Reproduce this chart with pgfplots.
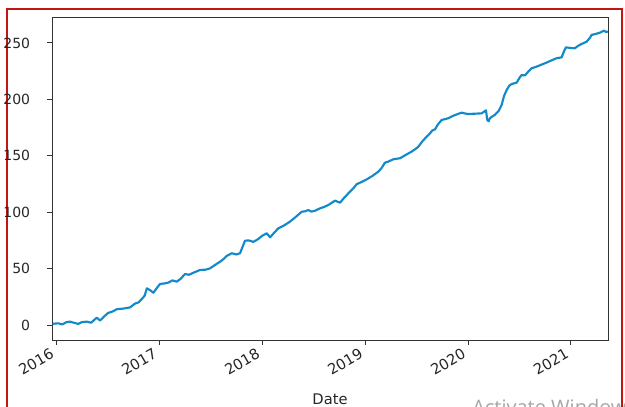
\documentclass[border=0pt]{standalone}
\usepackage{fontspec}
\setmainfont{DejaVu Sans}
\newfontfamily\wmfont{Open Sans}
\usepackage{pgfplots}
\pgfplotsset{compat=1.18}
\definecolor{lineblue}{RGB}{18,137,200}
\definecolor{framered}{RGB}{196,20,20}
\begin{document}
\begin{tikzpicture}[x=0.75pt,y=0.75pt]
\useasboundingbox (0,0) rectangle (625,407);
\draw[framered, line width=0.8pt] (7,-5) -- (7,398) -- (622,398) -- (622,-5);
\begin{axis}[
  at={(39pt,50.25pt)}, anchor=south west,
  scale only axis, width=417pt, height=242.25pt,
  xmin=2015.96, xmax=2021.36, ymin=-13.3, ymax=273,
  xtick={2016,2017,2018,2019,2020,2021},
  xticklabels={2016,2017,2018,2019,2020,2021},
  ytick={0,50,100,150,200,250},
  xtick pos=bottom, ytick pos=left,
  tick align=outside, major tick length=3.75pt,
  axis line style={black!80, line width=0.7pt},
  tick style={black!80, line width=0.7pt},
  /pgf/number format/assume math mode=true,
  tick label style={text=black!85},
  yticklabel style={font=\fontsize{10.5}{12}\selectfont, inner sep=2pt, xshift=-10.5pt},
  xticklabel style={font=\fontsize{11}{13}\selectfont, xshift=-4.5pt, yshift=-0.3pt, rotate=30, anchor=north east, inner sep=1pt},
  xlabel={Date},
  xlabel style={font=\fontsize{11}{13}\selectfont, text=black!85, at={(axis description cs:0.5,-0.152)}, anchor=north},
]
\addplot[lineblue, line width=1.6pt, line join=round] coordinates {
(2015.965,1) (2016.02,1.5) (2016.06,0.5) (2016.10,2.5) (2016.136,3) (2016.17,2) (2016.214,1) (2016.25,2.5)
(2016.298,3) (2016.34,2) (2016.395,6.5) (2016.427,4) (2016.46,7) (2016.505,10.7) (2016.55,12) (2016.589,14)
(2016.65,14.5) (2016.718,15.6) (2016.767,19) (2016.80,20) (2016.832,23) (2016.86,26)
(2016.881,32.5) (2016.91,31) (2016.945,28.6) (2016.98,33) (2017.010,36.4) (2017.05,36.8) (2017.087,37.5)
(2017.13,39.5) (2017.172,38.4) (2017.21,41) (2017.252,45.2) (2017.29,44.5) (2017.333,46.3) (2017.365,47.5)
(2017.398,48.8) (2017.45,49) (2017.495,50.2) (2017.54,53) (2017.592,56.1) (2017.62,58) (2017.657,61.2)
(2017.706,63.6) (2017.75,62.5) (2017.786,63.6) (2017.81,69) (2017.835,74.7) (2017.87,75) (2017.916,73.7)
(2017.96,76) (2018.00,79) (2018.046,81.3) (2018.078,77.7) (2018.12,82) (2018.158,85.7) (2018.21,88)
(2018.272,91.7) (2018.33,96) (2018.385,100.4) (2018.42,100.8) (2018.450,101.9) (2018.48,100.5) (2018.515,101.3)
(2018.563,103.4) (2018.60,104.5) (2018.644,106.4) (2018.68,108.5) (2018.709,110.2) (2018.757,108.4)
(2018.80,113) (2018.854,118.2) (2018.89,121.5) (2018.919,124.8) (2018.96,126.5) (2019.017,129.1)
(2019.07,132) (2019.129,135.9) (2019.16,139) (2019.194,143.9) (2019.23,145) (2019.275,146.9) (2019.340,147.8)
(2019.40,151) (2019.453,153.7) (2019.49,156) (2019.518,158) (2019.55,162) (2019.583,165.4) (2019.631,169.9)
(2019.655,172.5) (2019.680,173.4) (2019.71,178) (2019.745,181.8) (2019.78,182.5) (2019.809,183.3)
(2019.87,186) (2019.939,188.2) (2019.97,187.5) (2020.003,187) (2020.07,187.3) (2020.133,187.6)
(2020.175,190.3) (2020.187,181.8) (2020.20,180.5) (2020.214,183.4) (2020.262,186.3) (2020.30,190)
(2020.327,195) (2020.35,203) (2020.376,208.3) (2020.40,212) (2020.424,213.6) (2020.473,214.8)
(2020.50,219) (2020.521,221.6) (2020.553,221.2) (2020.59,225) (2020.618,227.6) (2020.65,228.5) (2020.683,229.6)
(2020.72,231) (2020.764,232.6) (2020.81,234.5) (2020.861,236.5) (2020.910,237.2) (2020.93,242) (2020.951,246.1)
(2021.00,245.5) (2021.039,245.3) (2021.07,247.5) (2021.104,249.1) (2021.152,251.1) (2021.18,254)
(2021.201,257.1) (2021.24,258) (2021.282,259.1) (2021.320,260.9) (2021.34,259.8) (2021.36,260.1)
};
\end{axis}
\begin{scope}
\clip (0,0) rectangle (625,407);
\node[anchor=base west, inner sep=0pt, text=black!35, font=\wmfont\fontsize{15}{18}\selectfont] at (472,-7.5) {Activate Windows};
\end{scope}
\end{tikzpicture}
\end{document}
